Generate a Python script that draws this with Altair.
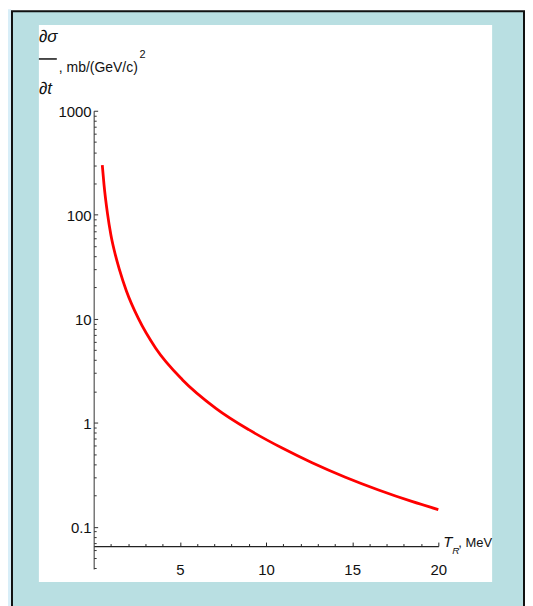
import json
import altair as alt
import pandas as pd

# ---- data ----
t_r = [0.5, 0.6, 0.8, 1.0, 1.2, 1.5, 1.9, 2.6, 3.6, 5.16, 7.09, 9.0, 10.94, 12.675, 14.606, 16.53, 18.46, 20.0]
dsigma_dt = [300, 195, 103, 64, 45, 29.5, 18.5, 10.0, 5.2, 2.58, 1.377, 0.857, 0.570, 0.412, 0.299, 0.2254, 0.175, 0.146]

x_tick_values = list(range(1, 21))
x_label_values = [5, 10, 15, 20]
y_tick_values = ([0.04, 0.05, 0.06, 0.07, 0.08, 0.09]
                 + [0.1, 0.2, 0.3, 0.4, 0.5, 0.6, 0.7, 0.8, 0.9]
                 + [1, 2, 3, 4, 5, 6, 7, 8, 9]
                 + [10, 20, 30, 40, 50, 60, 70, 80, 90]
                 + [100, 200, 300, 400, 500, 600, 700, 800, 900, 1000])
y_label_values = [0.1, 1, 10, 100, 1000]

x_domain = [0, 20]
y_domain = [0.0392, 1000]

curve = pd.DataFrame({"T": t_r, "v": dsigma_dt})
one = pd.DataFrame({"a": [0]})

FONT = "Liberation Sans, Arial, Helvetica, sans-serif"
TEAL = "#B9DFE2"

W, H = 346, 460
PAD = {"left": 86, "top": 102, "right": 87, "bottom": 36}

xmaj = f"indexof({json.dumps(x_label_values)}, datum.value) >= 0"
ymaj = f"indexof({json.dumps(y_label_values)}, datum.value) >= 0"

# ---- decorative frame ----
frame = alt.Chart(one).mark_rect(fill=TEAL, stroke="#111111", strokeWidth=2).encode(
    x=alt.value(-82), x2=alt.value(432), y=alt.value(-100), y2=alt.value(520)
)
strip = alt.Chart(one).mark_rect(fill="#D8EEF8").encode(
    x=alt.value(-86), x2=alt.value(-83), y=alt.value(-102), y2=alt.value(520)
)
panel = alt.Chart(one).mark_rect(fill="white").encode(
    x=alt.value(-55), x2=alt.value(400), y=alt.value(-86), y2=alt.value(473)
)

# ---- curve with axes ----
line = alt.Chart(curve).mark_line(
    color="#ff0000", strokeWidth=2.8, interpolate="monotone"
).encode(
    x=alt.X("T:Q", scale=alt.Scale(domain=x_domain, nice=False, zero=False),
            axis=alt.Axis(orient="bottom", offset=-23, values=x_tick_values,
                          tickSize={"expr": f"{xmaj} ? -4 : -2.5"},
                          labelExpr=f"{xmaj} ? datum.label : ''",
                          title=None, grid=False, domainColor="#222222", domainWidth=1.3,
                          tickColor="#222222", tickWidth=1, labelFont=FONT, labelFontSize=15,
                          labelColor="#111111", labelPadding=28, labelBaseline="middle",
                          labelFlush=False, labelOverlap=False, zindex=1)),
    y=alt.Y("v:Q", scale=alt.Scale(type="log", domain=y_domain, nice=False),
            axis=alt.Axis(orient="left", values=y_tick_values,
                          tickSize={"expr": f"{ymaj} ? -4 : -2.5"},
                          labelExpr=f"{ymaj} ? format(datum.value, '~g') : ''",
                          title=None, grid=False, domainColor="#333333", domainWidth=1,
                          tickColor="#333333", tickWidth=1, labelFont=FONT, labelFontSize=15,
                          labelColor="#111111", labelPadding=6.5, labelOffset=1,
                          labelFlush=False, labelOverlap=False, zindex=1)),
)

# ---- titles ----
def txt(s, x, y, size=17, italic=False, baseline="middle", align="left"):
    return alt.Chart(one).mark_text(
        text=s, font=FONT, fontSize=size, fontStyle="italic" if italic else "normal",
        color="#111111", align=align, baseline=baseline
    ).encode(x=alt.value(x), y=alt.value(y))

ytitle = [
    txt("∂σ", -55, -74, italic=True),
    alt.Chart(one).mark_rule(color="#111111", strokeWidth=1.5).encode(
        x=alt.value(-55), x2=alt.value(-37), y=alt.value(-52)),
    txt(", mb/(GeV/c)", -35, -43, size=14),
    txt("2", 46, -56, size=11),
    txt("∂t", -55, -22, italic=True),
]
xtitle = [
    txt("T", 351, 438, size=15, italic=True, baseline="alphabetic"),
    txt("R", 360, 445, size=10, italic=True, baseline="alphabetic"),
    txt(", MeV", 366, 438, size=13, baseline="alphabetic"),
]

chart = alt.layer(frame, strip, panel, line, *ytitle, *xtitle).properties(
    width=W, height=H, padding=PAD,
    autosize=alt.AutoSizeParams(type="none"),
    background="white",
).configure_view(stroke=None)

chart.save("out.html", embed_options={"renderer": "svg", "actions": False})
